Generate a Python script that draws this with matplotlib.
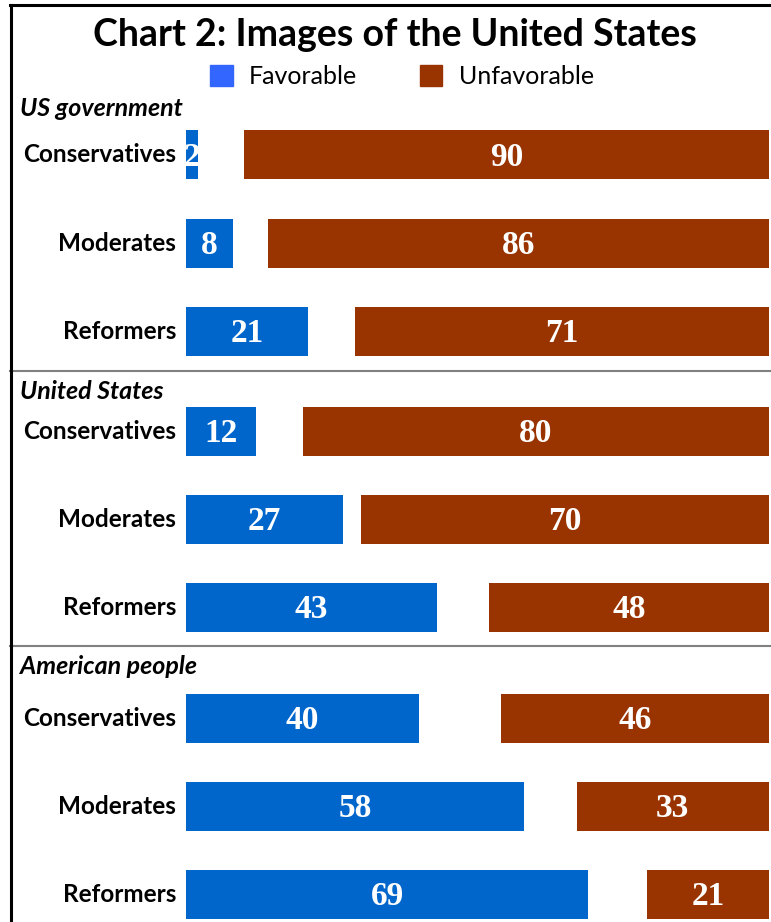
import matplotlib
matplotlib.use("Agg")
import matplotlib.pyplot as plt
from matplotlib.lines import Line2D
from matplotlib.patches import Patch

# data
groups = ["US government", "United States", "American people"]
rows = ["Conservatives", "Moderates", "Reformers"]
favorable = [
    [2, 8, 21],
    [12, 27, 43],
    [40, 58, 69],
]
unfavorable = [
    [90, 86, 71],
    [80, 70, 48],
    [46, 33, 21],
]

W, H = 771, 922
BLUE = "#0066CC"
BLUE_LEG = "#3366FF"
BROWN = "#993300"
SANS = "Lato"
SERIF = "Liberation Serif"

# layout (pixels)
x0, x1 = 186, 769
group_first_row = [155, 431, 718]
row_step = 88
header_y = [108, 391, 666]
separator_y = [371, 646]
bar_h = 49

fig = plt.figure(figsize=(W / 100, H / 100), dpi=100)
ax = fig.add_axes([x0 / W, 0, (x1 - x0) / W, 1])
ax.set_xlim(0, 100)
ax.set_ylim(H, 0)
ax.axis("off")

scale = (x1 - x0) / 100


def px2x(px):
    return (px - x0) / scale


for g, name in enumerate(groups):
    ax.text(px2x(20), header_y[g], name, ha="left", va="center",
            fontsize=18, fontweight="bold", fontstyle="italic",
            family=SANS, clip_on=False)
    for r, row in enumerate(rows):
        y = group_first_row[g] + r * row_step
        fav = favorable[g][r]
        unf = unfavorable[g][r]
        b1 = ax.barh(y, fav, height=bar_h, left=0, color=BLUE)[0]
        b2 = ax.barh(y, unf, height=bar_h, left=100 - unf, color=BROWN)[0]
        ax.text(px2x(176), y, row, ha="right", va="center", fontsize=17.5,
                fontweight="bold", family=SANS, clip_on=False)
        t1 = ax.text(fav / 2, y + 2, str(fav), ha="center", va="center",
                     color="white", fontsize=24, fontweight="bold", family=SERIF)
        t1.set_clip_path(b1)
        ax.text(100 - unf / 2, y + 2, str(unf), ha="center", va="center",
                color="white", fontsize=24, fontweight="bold", family=SERIF)

# separators and border
for sy in separator_y:
    fig.add_artist(Line2D([10 / W, 1], [1 - sy / H, 1 - sy / H],
                          color="#808080", lw=1.5))
fig.add_artist(Line2D([10 / W, 1], [1 - 5.5 / H, 1 - 5.5 / H], color="black", lw=2.2))
fig.add_artist(Line2D([10.5 / W, 10.5 / W], [0, 1 - 5 / H], color="black", lw=2.2))

fig.text(395 / W, 1 - 35 / H, "Chart 2: Images of the United States",
         ha="center", va="center", fontsize=27, fontweight="bold", family=SANS)

handles = [Patch(color=BLUE_LEG, label="Favorable"),
           Patch(color=BROWN, label="Unfavorable")]
fig.legend(handles=handles, loc="center", bbox_to_anchor=(402 / W, 1 - 77 / H),
           ncol=2, frameon=False, prop={"family": SANS, "size": 18},
           handlelength=0.9, handleheight=0.9, handletextpad=0.65,
           columnspacing=2.5)

fig.savefig("out.png", dpi=100)
